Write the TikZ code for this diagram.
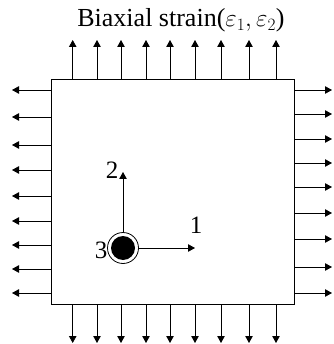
\documentclass[tikz,border=0pt]{standalone}
\usepackage{fontspec}
\setmainfont{Liberation Serif}
\usetikzlibrary{arrows.meta}

\begin{document}
\begin{tikzpicture}[x=1pt, y=-1pt, >={Triangle[length=7pt,width=7.5pt]}, line width=0.8pt]
    \useasboundingbox (0,0) rectangle (333,344);

    \node[draw, line width=1.2pt, minimum width=243pt, minimum height=225pt,
          inner sep=0pt, anchor=north west] (plate) at (51,79) {};

    \node[font=\fontsize{26}{30}\selectfont, anchor=base, inner sep=0pt] (title) at (181,27)
        {Biaxial strain($\varepsilon_1, \varepsilon_2$)};

    % stretching arrows on the four edges
    \foreach \x in {72.7,97,121,146,170,195,221,249,276} {
        \draw[->] (\x,79) -- (\x,40);
        \draw[->] (\x,304) -- (\x,343);
    }
    \foreach \y in {90,117,145,170,196,221,245,269,293}
        \draw[->] (51,\y) -- (12,\y);
    \foreach \y in {90,114,139,163,187,213,239,267,293}
        \draw[->] (294,\y) -- (332,\y);

    % material axes
    \node[circle, draw, line width=0.8pt, minimum size=31pt, inner sep=0pt] (ring) at (123,248) {};
    \node[circle, fill, minimum size=24pt, inner sep=0pt] (core) at (ring.center) {};
    \coordinate (tip1) at (195,248);
    \coordinate (tip2) at (123,172);
    \draw[->] (ring.east) -- (tip1);
    \draw[->] (ring.north) -- (tip2);

    \node[font=\fontsize{25}{30}\selectfont, inner sep=0pt] (lab1) at (196,225) {1};
    \node[font=\fontsize{25}{30}\selectfont, inner sep=0pt] (lab2) at (112,170) {2};
    \node[font=\fontsize{25}{30}\selectfont, inner sep=0pt] (lab3) at (101,250) {3};
\end{tikzpicture}
\end{document}
